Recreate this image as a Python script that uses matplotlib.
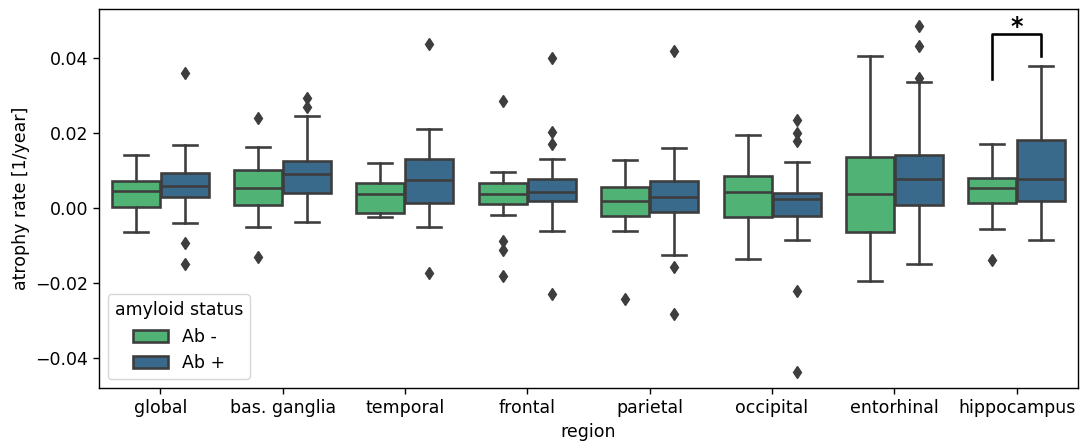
import matplotlib
matplotlib.use("Agg")
import matplotlib.pyplot as plt
from matplotlib.patches import Patch

regions = ["global", "bas. ganglia", "temporal", "frontal", "parietal",
           "occipital", "entorhinal", "hippocampus"]
hue_labels = ["Ab -", "Ab +"]

# box statistics, Ab - group
neg_q1 = [0.0003, 0.0008, -0.0014, 0.0010, -0.0021, -0.0024, -0.0065, 0.0014]
neg_med = [0.0046, 0.0054, 0.0037, 0.0037, 0.0018, 0.0043, 0.0037, 0.0054]
neg_q3 = [0.0072, 0.0101, 0.0068, 0.0066, 0.0057, 0.0085, 0.0135, 0.0081]
neg_lo = [-0.0064, -0.0051, -0.0025, -0.0019, -0.0062, -0.0137, -0.0195, -0.0055]
neg_hi = [0.0141, 0.0162, 0.0119, 0.0097, 0.0128, 0.0196, 0.0405, 0.0170]
neg_fliers = [[], [0.0239, -0.0131], [], [0.0285, -0.0088, -0.0112, -0.0181],
              [-0.0243], [], [], [-0.0139]]

# Ab + group
pos_q1 = [0.0030, 0.0039, 0.0013, 0.0020, -0.0010, -0.0021, 0.0008, 0.0019]
pos_med = [0.0059, 0.0090, 0.0075, 0.0042, 0.0030, 0.0025, 0.0077, 0.0078]
pos_q3 = [0.0093, 0.0125, 0.0132, 0.0077, 0.0073, 0.0041, 0.0141, 0.0181]
pos_lo = [-0.0040, -0.0038, -0.0050, -0.0061, -0.0125, -0.0086, -0.0150, -0.0086]
pos_hi = [0.0167, 0.0245, 0.0212, 0.0132, 0.0159, 0.0122, 0.0337, 0.0379]
pos_fliers = [[0.0359, -0.0094, -0.0150], [0.0293, 0.0269], [0.0437, -0.0172],
              [0.0401, 0.0202, 0.0172, -0.0229], [0.0419, -0.0158, -0.0283],
              [0.0235, 0.0199, 0.0179, -0.0221, -0.0437],
              [0.0486, 0.0432, 0.0347], []]

# significance bracket over hippocampus
sig_region = 7
sig_top = 0.0464
sig_left_end = 0.0344
sig_right_end = 0.0405

colors = ["#50b274", "#3a6a8b"]
gray = "#3d3d3d"
s = 1.25  # the original was drawn a bit larger than default

plt.rcParams["font.size"] = 10 * s
plt.rcParams["axes.linewidth"] = 0.8 * s
plt.rcParams["xtick.major.width"] = 0.8 * s
plt.rcParams["ytick.major.width"] = 0.8 * s
plt.rcParams["xtick.major.size"] = 3.5 * s
plt.rcParams["ytick.major.size"] = 3.5 * s

fig = plt.figure(figsize=(10.81, 4.45), dpi=100)
ax = fig.add_axes([0.0916, 0.128, 0.9056, 0.852])

lw = 1.5 * s
groups = [(neg_q1, neg_med, neg_q3, neg_lo, neg_hi, neg_fliers),
          (pos_q1, pos_med, pos_q3, pos_lo, pos_hi, pos_fliers)]
offsets = [-0.2, 0.2]
for (q1, med, q3, lo, hi, fl), off, col in zip(groups, offsets, colors):
    stats = []
    for i in range(len(regions)):
        stats.append(dict(q1=q1[i], med=med[i], q3=q3[i], whislo=lo[i],
                          whishi=hi[i], fliers=fl[i]))
    pos = [i + off for i in range(len(regions))]
    ax.bxp(stats, positions=pos, widths=0.392, patch_artist=True,
           showfliers=True, manage_ticks=False,
           boxprops=dict(facecolor=col, edgecolor=gray, linewidth=lw),
           medianprops=dict(color=gray, linewidth=lw),
           whiskerprops=dict(color=gray, linewidth=lw),
           capprops=dict(color=gray, linewidth=lw),
           flierprops=dict(marker="d", markerfacecolor=gray,
                           markeredgecolor=gray, markersize=5 * s))

x1 = sig_region + offsets[0]
x2 = sig_region + offsets[1]
ax.plot([x1, x1, x2, x2], [sig_left_end, sig_top, sig_top, sig_right_end],
        color="black", linewidth=lw)
ax.text((x1 + x2) / 2, sig_top - 0.0012, "*", ha="center", va="bottom",
        fontsize=17, fontweight="bold")

ax.set_xlim(-0.5, len(regions) - 0.5)
ax.set_ylim(-0.048, 0.0531)
ax.set_xticks(range(len(regions)))
ax.set_xticklabels(regions)
ax.set_yticks([-0.04, -0.02, 0.0, 0.02, 0.04])
ax.set_xlabel("region")
ax.set_ylabel("atrophy rate [1/year]")

handles = [Patch(facecolor=c, edgecolor=gray, linewidth=lw, label=l)
           for c, l in zip(colors, hue_labels)]
ax.legend(handles=handles, title="amyloid status", loc="lower left",
          title_fontsize=10 * s)

fig.savefig("out.png", dpi=100)
